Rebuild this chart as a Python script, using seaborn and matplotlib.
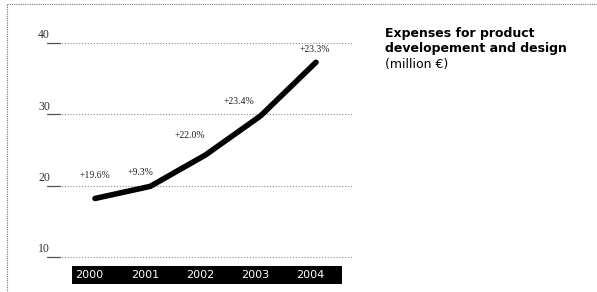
import pandas as pd
import seaborn as sns
import matplotlib.pyplot as plt
from matplotlib.lines import Line2D

# data
years = [2000, 2001, 2002, 2003, 2004]
expenses = [18.2, 19.9, 24.3, 29.8, 37.3]
growth_labels = ["+19.6%", "+9.3%", "+22.0%", "+23.4%", "+23.3%"]
y_ticks = [10, 20, 30, 40]

df = pd.DataFrame({"Year": years, "Expenses": expenses})

sns.set_theme(style="white")
plt.rcParams["font.family"] = ["DejaVu Sans"]

fig = plt.figure(figsize=(5.97, 2.92), dpi=100)
ax = fig.add_axes([47 / 597, 7 / 292, 305 / 597, 247 / 292])

x0 = years[0]
ax.set_xlim(x0 - 0.869, x0 + 4.652)
ax.set_ylim(6.07, 40.7)

# dotted gridlines with a short solid stub under each label
for v in y_ticks:
    ax.plot([x0 - 0.869, x0 + 4.652], [v, v], color="#8a8a8a", lw=0.8,
            ls=(0, (1, 1.6)), zorder=1)
    ax.plot([x0 - 0.869, x0 - 0.64], [v, v], color="#555555", lw=0.9, zorder=1)
    ax.text(x0 - 1.03, v + 0.25, str(v), ha="left", va="bottom",
            family="Liberation Serif", fontsize=8.5, color="#333333", clip_on=False)

# black year band
ax.fill_between([x0 - 0.42, x0 + 4.47], 6.21, 8.74, color="black", lw=0, zorder=2)
for yr in years:
    ax.text(yr - 0.1, 7.45, str(yr), ha="center", va="center", color="white",
            fontsize=8, zorder=3)

sns.lineplot(data=df, x="Year", y="Expenses", ax=ax, color="black", lw=4,
             solid_capstyle="round", zorder=4)

offsets = [(0, 13), (-7, 7), (-11, 11), (-16, 7), (-1, 6)]
for yr, val, lab, off in zip(years, expenses, growth_labels, offsets):
    ax.annotate(lab, (yr, val), xytext=off, textcoords="offset points",
                ha="center", va="bottom", family="Liberation Serif",
                fontsize=7, color="#222222", zorder=5)

ax.set_xlabel("")
ax.set_ylabel("")
ax.set_xticks([])
ax.set_yticks([])
for s in ax.spines.values():
    s.set_visible(False)
ax.patch.set_alpha(0)

# title block
fig.text(385 / 597, 1 - 27 / 292, "Expenses for product\ndevelopement and design",
         ha="left", va="top", fontsize=9, fontweight="bold", color="black",
         linespacing=1.2)
fig.text(385 / 597, 1 - 58 / 292, "(million €)", ha="left", va="top",
         fontsize=9, color="black")

# dotted frame on top and left
fig.add_artist(Line2D([7 / 597, 1], [1 - 4 / 292, 1 - 4 / 292], color="#777777",
                      lw=0.8, ls=(0, (1, 1))))
fig.add_artist(Line2D([7 / 597, 7 / 597], [0, 1 - 4 / 292], color="#777777",
                      lw=0.8, ls=(0, (1, 1))))

fig.savefig("out.png", dpi=100)
